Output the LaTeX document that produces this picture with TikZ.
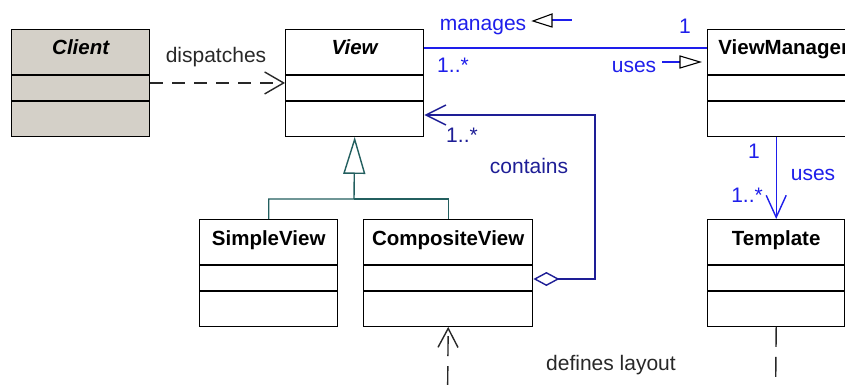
\documentclass[tikz,border=0pt]{standalone}
\usepackage{fontspec}
\setmainfont{Liberation Sans}
\usetikzlibrary{arrows.meta}
\definecolor{umlblue}{RGB}{30,30,235}
\definecolor{umlnavy}{RGB}{30,30,150}
\definecolor{umlteal}{RGB}{35,95,95}
\definecolor{clientgray}{RGB}{212,208,200}
\definecolor{labelgray}{RGB}{40,40,40}
\tikzset{
  classbox/.style={draw=black, line width=1.4pt, rectangle, anchor=north west,
    minimum height=106.5pt, inner sep=0pt, fill=white},
  classtitle/.style={anchor=base, inner sep=0pt, font=\fontsize{20.5}{24}\selectfont\bfseries},
  classline/.style={line width=1.4pt},
  lbl/.style={inner sep=0pt, font=\fontsize{21}{25}\selectfont},
  bluelbl/.style={lbl, text=umlblue},
  navylbl/.style={lbl, text=umlnavy},
  graylbl/.style={lbl, text=labelgray},
  depline/.style={line width=1.4pt, draw=labelgray, dash pattern=on 13pt off 9pt,
    -{Straight Barb[length=19pt,width=22pt]}},
  layoutline/.style={line width=1.4pt, draw=labelgray, dash pattern=on 20pt off 10pt,
    -{Straight Barb[length=19pt,width=20pt]}},
  assocline/.style={line width=1.4pt, draw=umlblue},
  aggrline/.style={line width=1.4pt, draw=umlnavy,
    {Diamond[open,length=26pt,width=14pt]}-{Straight Barb[length=20pt,width=20pt]}},
  genline/.style={line width=1.4pt, draw=umlteal},
  marker/.style={line width=1.1pt, draw=black, line join=miter},
}
\newcommand\umlclass[6]{%
  \node[classbox,#6,minimum width=#4pt] (#1) at (#2,#3) {};
  \node[classtitle] (#1-t) at ([yshift=-26pt]#1.north) {#5};
  \draw[classline] ([yshift=-46pt]#1.north west) -- ([yshift=-46pt]#1.north east);
  \draw[classline] ([yshift=-72pt]#1.north west) -- ([yshift=-72pt]#1.north east);
}
\begin{document}
\begin{tikzpicture}[x=1pt,y=-1pt]
\useasboundingbox (0,0) rectangle (845,385);
\clip (0,0) rectangle (845,385);
\fill[white] (0,0) rectangle (845,385);

% classes
\umlclass{client}{11}{29}{138}{\itshape Client}{fill=clientgray}
\umlclass{view}{285}{29}{138}{\itshape View}{}
\umlclass{vm}{707}{29}{152}{ViewManager}{}
\umlclass{sv}{199}{219}{138}{SimpleView}{}
\umlclass{cv}{363}{219}{169}{CompositeView}{}
\umlclass{tpl}{707}{219}{137}{Template}{}

% dispatches
\draw[depline] (client.east) -- (view.west);
\node[graylbl] (l-disp) at (216,57) {dispatches};

% manages / uses association
\draw[assocline] ([yshift=-19pt]view.north east) -- ([yshift=-19pt]vm.north west);
\node[bluelbl] (l-man) at (483,27) {manages};
\node[bluelbl] (l-m1) at (453,65) {1..*};
\node[bluelbl] (l-one) at (685,26.5) {1};
\node[bluelbl] (l-uses) at (634,66.5) {uses};
\draw[assocline] (552,20) -- (572,20);
\draw[marker] (533,21) -- (552,14) -- (552,27) -- cycle;
\draw[assocline] (662,62) -- (680,62);
\draw[marker] (700,62) -- (680,56) -- (680,68) -- cycle;

% contains (aggregation)
\coordinate (ccb) at (595,279);
\coordinate (cct) at (595,115);
\draw[aggrline] ([yshift=-60pt]cv.north east) -- (ccb) -- (cct) -- ([yshift=-86pt]view.north east);
\node[navylbl] (l-m2) at (462,135) {1..*};
\node[navylbl] (l-cont) at (529,166) {contains};

% generalization
\coordinate (gj) at (354,199);
\draw[genline] (cv.north) |- (gj);
\draw[genline, -{Triangle[open,length=37pt,width=22pt]}] (sv.north) |- (gj) -- (view.south);

% ViewManager uses Template
\draw[assocline, -{Straight Barb[length=22pt,width=20pt]}] (vm.south -| tpl.north) -- (tpl.north);
\node[bluelbl] (l-one2) at (754,151) {1};
\node[bluelbl] (l-uses2) at (813,174.5) {uses};
\node[bluelbl] (l-m3) at (747,195.5) {1..*};

% defines layout dependency
\coordinate (dlr) at (775.5,402.5);
\coordinate (dll) at (447.5,402.5);
\draw[layoutline] (tpl.south) -- (dlr) -- (dll) -- (cv.south);
\node[graylbl] (l-def) at (611,365) {defines layout};
\end{tikzpicture}
\end{document}
